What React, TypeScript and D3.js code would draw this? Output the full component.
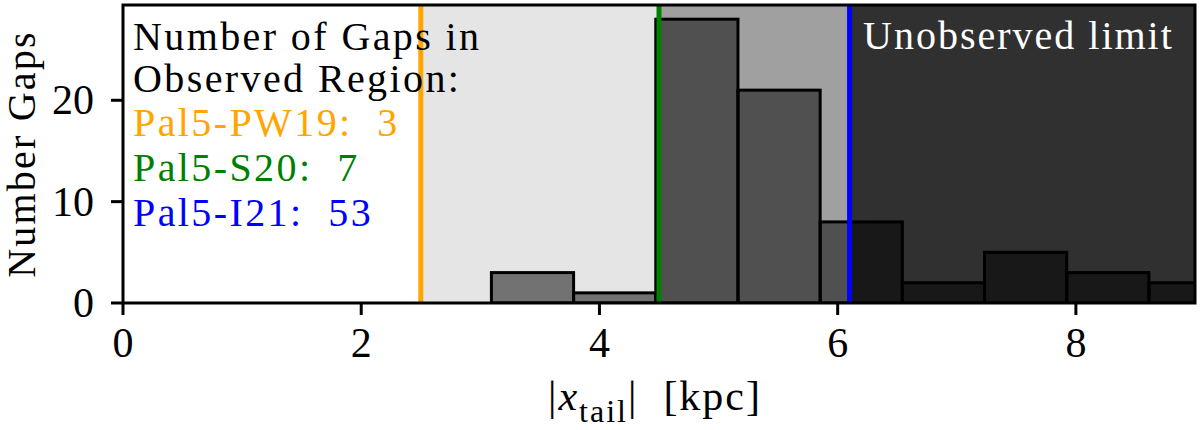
import React from "react";
import * as d3 from "d3";

const binEdges = [3.093, 3.783, 4.473, 5.163, 5.853, 6.543, 7.233, 7.923, 8.613, 9.303];
const gapCounts = [3, 1, 28, 21, 8, 2, 5, 3, 2];

const surveyNames = ["Pal5-PW19", "Pal5-S20", "Pal5-I21"];
const surveyLimits = [2.5, 4.5, 6.1];
const surveyGapTotals = [3, 7, 53];
const surveyColors = ["#FFA500", "#008000", "#0000FF"];

const regionStarts = [2.5, 4.5, 6.1];
const regionEnds = [4.5, 6.1, 9];
const regionFills = ["#e5e5e5", "#a0a0a0", "#303030"];

const xTicks = [0, 2, 4, 6, 8];
const yTicks = [0, 10, 20];

const W = 1200;
const H = 430;
const M = { left: 123, right: 1195, top: 5, bottom: 303 };
const FONT = "'Liberation Serif', 'DejaVu Serif', serif";
const FS = 40;
const LS = 2.4;

export default function App() {
  const x = d3.scaleLinear().domain([0, 9]).range([M.left, M.right]);
  const y = d3.scaleLinear().domain([0, 29.4]).range([M.bottom, M.top]);

  const bars = gapCounts.map((c, i) => ({ x0: binEdges[i], x1: binEdges[i + 1], c }));

  return (
    <svg
      width={W}
      height={H}
      style={{ position: "absolute", left: 0, top: 0, display: "block", background: "#fff", fontFamily: FONT }}
    >
      <defs>
        <clipPath id="plotClip">
          <rect x={M.left} y={M.top} width={M.right - M.left} height={M.bottom - M.top} />
        </clipPath>
      </defs>
      <g clipPath="url(#plotClip)">
        {regionStarts.map((s, i) => (
          <rect
            key={"reg" + i}
            x={x(s)}
            y={M.top}
            width={x(regionEnds[i]) - x(s)}
            height={M.bottom - M.top}
            fill={regionFills[i]}
          />
        ))}
        {bars.map((b, i) => (
          <rect
            key={"bar" + i}
            x={x(b.x0)}
            y={y(b.c)}
            width={x(b.x1) - x(b.x0)}
            height={y(0) - y(b.c)}
            fill="rgba(0,0,0,0.5)"
            stroke="#000"
            strokeWidth={3}
          />
        ))}
        {surveyLimits.map((v, i) => (
          <line
            key={"lim" + i}
            x1={x(v)}
            x2={x(v)}
            y1={M.top}
            y2={M.bottom}
            stroke={surveyColors[i]}
            strokeWidth={5}
          />
        ))}
      </g>

      <text x={133} y={50} fontSize={FS} letterSpacing={LS} fill="#000">
        Number of Gaps in
      </text>
      <text x={133} y={92} fontSize={FS} letterSpacing={LS} fill="#000">
        Observed Region:
      </text>
      {surveyNames.map((n, i) => (
        <text
          key={"lab" + i}
          x={133}
          y={136 + i * 45}
          fontSize={FS}
          letterSpacing={LS}
          fill={surveyColors[i]}
          style={{ whiteSpace: "pre" }}
        >
          {n + ":  " + surveyGapTotals[i]}
        </text>
      ))}
      <text x={863} y={49} fontSize={FS} letterSpacing={2} fill="#ffffff">
        Unobserved limit
      </text>

      <rect
        x={M.left}
        y={M.top}
        width={M.right - M.left}
        height={M.bottom - M.top}
        fill="none"
        stroke="#000"
        strokeWidth={3}
      />

      {xTicks.map((t) => (
        <g key={"xt" + t}>
          <line x1={x(t)} x2={x(t)} y1={M.bottom} y2={M.bottom + 12} stroke="#000" strokeWidth={3} />
          <text x={x(t)} y={357} fontSize={42} textAnchor="middle" fill="#000">
            {t}
          </text>
        </g>
      ))}
      {yTicks.map((t) => (
        <g key={"yt" + t}>
          <line x1={M.left - 12} x2={M.left} y1={y(t)} y2={y(t)} stroke="#000" strokeWidth={3} />
          <text x={94} y={y(t) + 14} fontSize={42} textAnchor="end" fill="#000">
            {t}
          </text>
        </g>
      ))}

      <text
        transform={`translate(35, ${(M.top + M.bottom) / 2}) rotate(-90)`}
        fontSize={FS}
        letterSpacing={2.2}
        textAnchor="middle"
        fill="#000"
      >
        Number Gaps
      </text>

      <text x={655} y={410} fontSize={42} textAnchor="middle" fill="#000" letterSpacing={2} style={{ whiteSpace: "pre" }}>
        <tspan>|</tspan>
        <tspan fontStyle="italic">x</tspan>
        <tspan fontSize={32} dy={12}>tail</tspan>
        <tspan dy={-12}>|</tspan>
        <tspan>{"  [kpc]"}</tspan>
      </text>
    </svg>
  );
}
